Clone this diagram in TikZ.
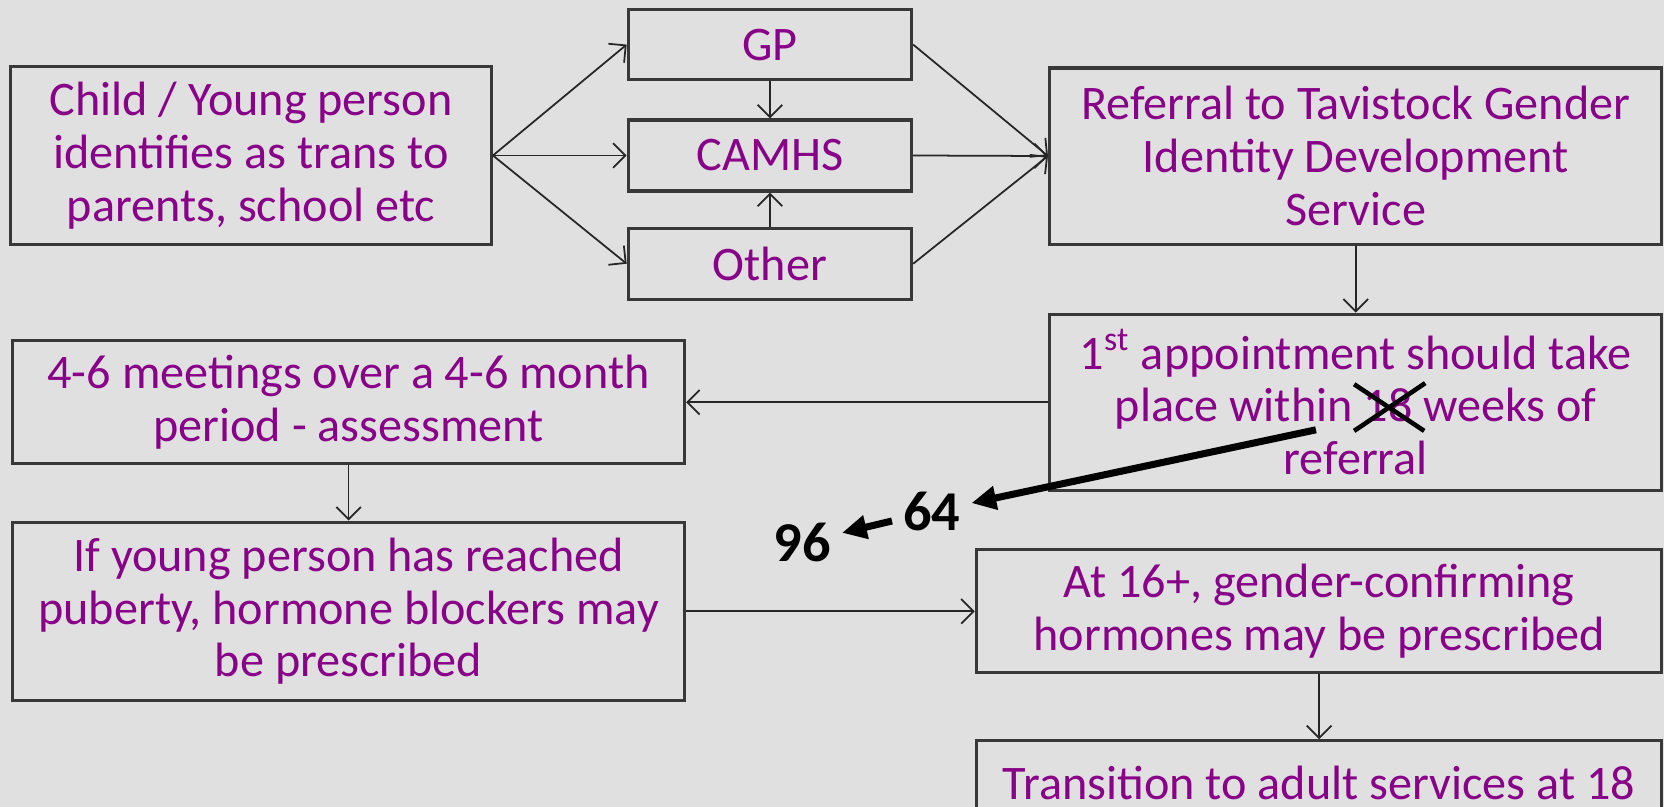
\documentclass[tikz,border=0pt]{standalone}
\usepackage{fontspec}
\setmainfont{Carlito}
\usetikzlibrary{arrows.meta}
\newcommand{\sz}{0.010612cm}
\definecolor{tavi}{RGB}{136,0,136}
\definecolor{slide}{RGB}{224,224,224}

\begin{document}
\begin{tikzpicture}[x=\sz, y=-\sz,
    wh/.style 2 args={minimum width=#1*\sz, minimum height=#2*\sz},
    box/.style={draw=black!78, line width=0.9pt, text=tavi, align=center, inner sep=0pt,
        font=\fontsize{13.7}{15}\selectfont},
    link/.style={-{Straight Barb[length=3.5pt,width=7pt]}, line width=0.5pt, black!85},
    fat/.style={-{Triangle[length=7pt,width=6.5pt]}, line width=2pt, black},
    num/.style={font=\fontsize{16}{19}\bfseries\selectfont, inner sep=3pt}]
    %%%%% START %%%%%

    \fill[slide] (0,0) rectangle (1568,760);
    \useasboundingbox (0,0) rectangle (1568,760);
    \clip (0,0) rectangle (1568,760);

    % top row
    \node[box, wh={453}{167}] (child) at (236.5,146.5) {Child / Young person\\identifies as trans to\\parents, school etc};
    \node[box, wh={267}{66}] (gp) at (725.5,42) {GP};
    \node[box, wh={267}{67}] (camhs) at (725.5,146.5) {CAMHS};
    \node[box, wh={267}{67}] (other) at (725.5,248.5) {Other};
    \node[box, wh={577}{166}] (referral) at (1277.5,147) {Referral to Tavistock Gender\\Identity Development\\Service};

    % middle
    \node[box, wh={577}{166}] (appt) at (1277.5,379) {1\textsuperscript{st} appointment should take\\place within 18 weeks of\\referral};
    \node[box, wh={633}{116}] (meet) at (328.5,379) {4-6 meetings over a 4-6 month\\period - assessment};
    \node[box, wh={633}{168}] (puberty) at (328.5,576) {If young person has reached\\puberty, hormone blockers may\\be prescribed};

    % bottom right
    \node[box, wh={646}{116}] (sixteen) at (1243,576) {At 16+, gender-confirming\\hormones may be prescribed};
    \node[box, wh={646}{80}] (adult) at (1243,738) {Transition to adult services at 18};

    \draw[link] (child.east) -- (gp.west);
    \draw[link] (child.east) -- (camhs.west);
    \draw[link] (child.east) -- (other.west);
    \draw[link] (gp) -- (camhs);
    \draw[link] (other) -- (camhs);
    \draw[link] (gp.east) -- (referral.west);
    \draw[link] (camhs.east) -- (referral.west);
    \draw[link] (other.east) -- (referral.west);
    \draw[link] (referral) -- (appt);
    \draw[link] (appt.west) -- (meet.east);
    \draw[link] (meet) -- (puberty);
    \draw[link] (puberty.east) -- (puberty.east -| sixteen.west);
    \draw[link] (sixteen) -- (adult);

    % crossed out 18
    \draw[line width=1.3pt] (1276,362) -- (1342,406);
    \draw[line width=1.3pt] (1276,406) -- (1343,361);

    \node[num] (n64) at (878,482) {64};
    \node[num] (n96) at (756,511) {96};
    \coordinate (s18) at (1240,405);
    \draw[fat] (s18) -- (n64);
    \draw[fat] (n64) -- (n96);

    %%%%% END %%%%%
\end{tikzpicture}
\end{document}
